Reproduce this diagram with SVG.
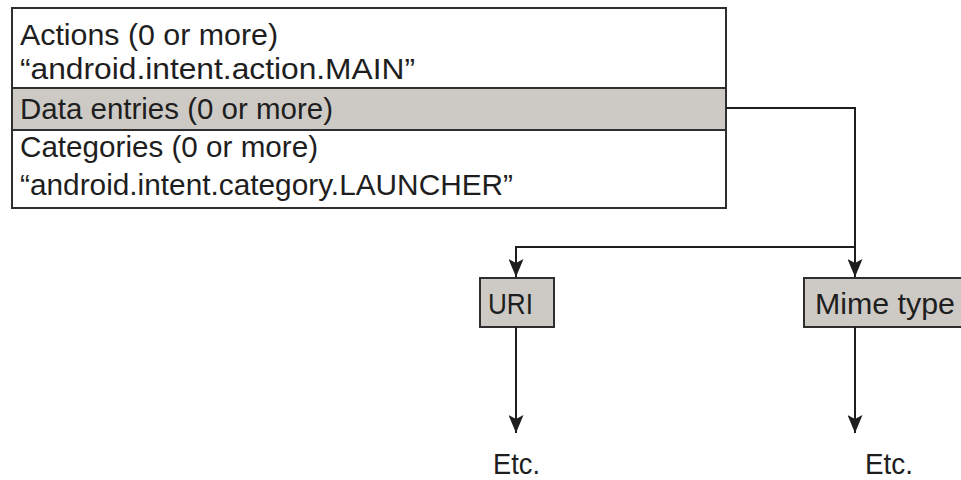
<svg xmlns="http://www.w3.org/2000/svg" width="961" height="480" viewBox="0 0 961 480">
<style>
.t{font-family:"Liberation Sans","Arial",sans-serif;font-size:30px;fill:#1e1e1e}
.e{font-size:29px}
.box{stroke:#2e2e2e;stroke-width:2}
.gray{fill:#cdcac5}
.c{fill:none;stroke:#1e1e1e;stroke-width:2}
</style>
<defs>
<marker id="ah" markerUnits="userSpaceOnUse" markerWidth="19" markerHeight="15" refX="18" refY="7.5" orient="auto" viewBox="0 0 19 15">
<path d="M0,0 L18,7.5 L0,15 L4,7.5 Z" fill="#1e1e1e"/>
</marker>
</defs>
<rect width="961" height="480" fill="#ffffff"/>
<g id="intent-filter">
<rect x="12" y="8" width="714" height="200" fill="#ffffff" class="box"/>
<rect x="12" y="88" width="714" height="42" class="gray box"/>
<text class="t" x="20" y="45" textLength="258" lengthAdjust="spacingAndGlyphs">Actions (0 or more)</text>
<text class="t" x="20" y="79" textLength="395" lengthAdjust="spacingAndGlyphs">“android.intent.action.MAIN”</text>
<text class="t" x="20" y="119" textLength="313" lengthAdjust="spacingAndGlyphs">Data entries (0 or more)</text>
<text class="t" x="20" y="157" textLength="298" lengthAdjust="spacingAndGlyphs">Categories (0 or more)</text>
<text class="t" x="20" y="195" textLength="493" lengthAdjust="spacingAndGlyphs">“android.intent.category.LAUNCHER”</text>
</g>
<g id="uri">
<rect x="480" y="278" width="74" height="49" class="gray box"/>
<text class="t" x="488" y="314" textLength="45" lengthAdjust="spacingAndGlyphs">URI</text>
</g>
<g id="mime">
<rect x="804" y="278" width="170" height="49" class="gray box"/>
<text class="t" x="815" y="314" textLength="140" lengthAdjust="spacingAndGlyphs">Mime type</text>
</g>
<g id="etc1">
<text class="t e" x="493" y="474" textLength="47" lengthAdjust="spacingAndGlyphs">Etc.</text>
</g>
<g id="etc2">
<text class="t e" x="865" y="474" textLength="48" lengthAdjust="spacingAndGlyphs">Etc.</text>
</g>
<g id="connectors">
<path class="c" d="M726,108 H855 V277" marker-end="url(#ah)"/>
<path class="c" d="M855,247 H516 V277" marker-end="url(#ah)"/>
<path class="c" d="M516,327 V433" marker-end="url(#ah)"/>
<path class="c" d="M855,327 V433" marker-end="url(#ah)"/>
</g>
</svg>
